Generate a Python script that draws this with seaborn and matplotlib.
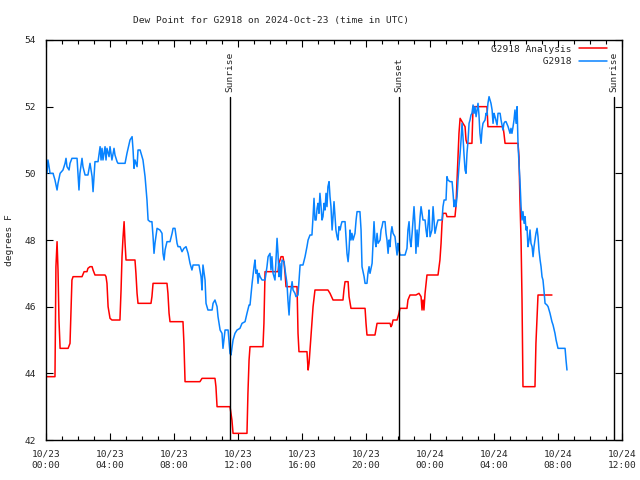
import numpy as np
import pandas as pd
import matplotlib
matplotlib.use("Agg")
import matplotlib.pyplot as plt
import seaborn as sns

# hours since 2024-10-23 00:00 UTC and dew point (F)
station_hours = [
    0.06, 0.12, 0.19, 0.25, 0.44, 0.56, 0.69, 0.75, 0.88, 1.06, 1.19, 1.25, 1.31, 1.44, 1.5, 1.62,
    1.94, 2.0, 2.06, 2.12, 2.25, 2.31, 2.44, 2.62, 2.75, 2.88, 2.94, 3.0, 3.06, 3.25, 3.38, 3.44,
    3.5, 3.56, 3.69, 3.75, 3.81, 3.94, 4.0, 4.12, 4.25, 4.31, 4.44, 4.5, 4.94, 5.06, 5.25, 5.38,
    5.44, 5.5, 5.56, 5.69, 5.75, 5.88, 6.0, 6.06, 6.19, 6.31, 6.38, 6.5, 6.62, 6.69, 6.75, 6.81,
    6.94, 7.12, 7.25, 7.31, 7.38, 7.44, 7.56, 7.75, 7.88, 7.94, 8.06, 8.19, 8.25, 8.38, 8.5, 8.62,
    8.75, 8.88, 9.0, 9.12, 9.19, 9.31, 9.44, 9.56, 9.69, 9.75, 9.81, 9.94, 10.0, 10.12, 10.38, 10.44,
    10.56, 10.69, 10.75, 10.88, 11.0, 11.06, 11.12, 11.19, 11.38, 11.5, 11.56, 11.69, 11.81, 11.94,
    12.12, 12.25, 12.44, 12.56, 12.69, 12.75, 12.88, 13.0, 13.06, 13.12, 13.19, 13.25, 13.31, 13.38,
    13.5, 13.69, 13.81, 13.88, 14.0, 14.06, 14.12, 14.19, 14.31, 14.38, 14.44, 14.5, 14.56, 14.62,
    14.69, 14.75, 14.88, 14.94, 15.06, 15.12, 15.19, 15.25, 15.31, 15.38, 15.44, 15.56, 15.62, 15.75,
    15.88, 16.06, 16.19, 16.31, 16.38, 16.5, 16.62, 16.69, 16.75, 16.81, 16.88, 16.94, 17.0, 17.06,
    17.12, 17.19, 17.25, 17.31, 17.38, 17.44, 17.5, 17.56, 17.62, 17.69, 17.75, 17.81, 17.88, 17.94,
    18.0, 18.06, 18.12, 18.19, 18.25, 18.31, 18.38, 18.44, 18.5, 18.69, 18.81, 18.88, 18.94, 19.0,
    19.06, 19.12, 19.19, 19.31, 19.38, 19.44, 19.62, 19.69, 19.75, 19.88, 19.94, 20.06, 20.12, 20.19,
    20.25, 20.38, 20.44, 20.5, 20.56, 20.62, 20.69, 20.75, 20.88, 20.94, 21.0, 21.06, 21.19, 21.25,
    21.31, 21.38, 21.44, 21.5, 21.56, 21.62, 21.69, 21.81, 21.88, 21.94, 22.0, 22.06, 22.12, 22.31,
    22.44, 22.56, 22.62, 22.69, 22.75, 22.81, 22.88, 22.94, 23.0, 23.06, 23.12, 23.19, 23.25, 23.38,
    23.44, 23.5, 23.56, 23.69, 23.75, 23.81, 23.88, 23.94, 24.0, 24.12, 24.19, 24.25, 24.31, 24.44,
    24.5, 24.75, 24.81, 24.88, 25.0, 25.06, 25.12, 25.25, 25.38, 25.44, 25.5, 25.56, 25.62, 25.69,
    25.75, 25.81, 25.88, 25.94, 26.0, 26.06, 26.12, 26.19, 26.25, 26.31, 26.38, 26.44, 26.5, 26.56,
    26.62, 26.69, 26.75, 26.81, 26.88, 26.94, 27.0, 27.06, 27.12, 27.19, 27.25, 27.31, 27.44, 27.5,
    27.56, 27.62, 27.69, 27.75, 27.81, 27.88, 27.94, 28.0, 28.06, 28.19, 28.25, 28.31, 28.38, 28.44,
    28.5, 28.56, 28.62, 28.69, 28.75, 28.88, 28.94, 29.0, 29.06, 29.12, 29.19, 29.25, 29.31, 29.38,
    29.44, 29.5, 29.56, 29.62, 29.69, 29.75, 29.81, 29.88, 29.94, 30.0, 30.06, 30.12, 30.19, 30.25,
    30.31, 30.38, 30.44, 30.5, 30.56, 30.62, 30.69, 30.75, 30.81, 30.88, 30.94, 31.0, 31.06, 31.12,
    31.19, 31.31, 31.38, 31.5, 31.62, 31.69, 31.81, 31.88, 32.0, 32.31, 32.44, 32.5, 32.56,
]
station_dewpt = [
    50.0, 50.4, 50.2, 50.0, 50.0, 49.8, 49.5, 49.7, 50.0, 50.1, 50.3, 50.45, 50.2, 50.1, 50.3, 50.45,
    50.45, 50.0, 49.5, 50.0, 50.45, 50.2, 49.95, 49.95, 50.3, 49.9, 49.45, 49.9, 50.35, 50.35, 50.8, 50.4,
    50.75, 50.4, 50.8, 50.4, 50.75, 50.5, 50.8, 50.4, 50.75, 50.55, 50.35, 50.3, 50.3, 50.6, 51.0, 51.1,
    50.7, 50.15, 50.4, 50.2, 50.7, 50.7, 50.5, 50.4, 49.9, 49.2, 48.6, 48.55, 48.55, 48.1, 47.6, 47.9,
    48.35, 48.3, 48.2, 47.6, 47.4, 47.7, 47.95, 47.95, 48.2, 48.35, 48.35, 47.9, 47.8, 47.8, 47.65, 47.75,
    47.8, 47.6, 47.3, 47.1, 47.25, 47.25, 47.25, 47.25, 46.9, 46.5, 47.25, 46.8, 46.1, 45.9, 45.9, 46.1,
    46.2, 46.0, 45.7, 45.3, 45.2, 44.75, 45.0, 45.3, 45.3, 44.6, 44.55, 45.0, 45.2, 45.3,
    45.35, 45.5, 45.55, 45.8, 46.05, 46.05, 46.7, 47.2, 47.4, 47.0, 47.1, 46.7, 47.0, 46.9,
    46.8, 46.8, 47.2, 47.5, 47.6, 47.1, 47.5, 47.0, 46.8, 47.5, 48.05, 47.6, 46.9, 47.3,
    46.8, 47.4, 47.35, 47.1, 46.7, 46.2, 45.75, 46.3, 46.5, 46.75, 46.5, 46.4, 46.3, 46.35,
    47.25, 47.25, 47.5, 47.8, 48.0, 48.15, 48.15, 48.7, 49.25, 48.6, 48.6, 48.95, 49.1, 48.8,
    49.4, 49.0, 48.6, 48.7, 49.1, 48.9, 49.4, 49.0, 49.6, 49.75, 49.3, 49.0, 48.3, 48.7,
    49.15, 48.7, 48.3, 48.1, 48.0, 48.4, 48.3, 48.45, 48.55, 48.55, 47.6, 47.35, 47.7, 48.3,
    48.0, 48.2, 48.0, 48.2, 48.6, 48.85, 48.85, 48.3, 47.2, 46.9, 46.7, 46.7, 47.0, 47.2,
    47.0, 47.3, 47.9, 48.55, 48.0, 47.8, 48.2, 47.9, 48.0, 48.3, 48.4, 48.55, 48.55, 48.2,
    48.0, 47.6, 48.0, 47.8, 48.2, 48.4, 48.2, 48.1, 47.8, 47.55, 47.9, 47.7, 47.55, 47.55,
    47.55, 47.75, 48.3, 48.55, 48.0, 47.8, 48.2, 48.6, 49.0, 48.5, 47.6, 48.3, 47.8, 48.7,
    49.0, 48.8, 48.6, 48.6, 48.3, 48.1, 48.5, 48.9, 48.1, 48.3, 49.0, 48.6, 48.2, 48.5,
    48.6, 48.6, 49.0, 49.2, 49.2, 49.9, 49.8, 49.75, 49.75, 49.4, 49.0, 49.2, 49.0, 49.3,
    49.8, 50.2, 50.6, 51.0, 51.5, 51.1, 50.6, 50.1, 50.0, 50.6, 51.0, 51.5, 51.6, 51.75,
    51.8, 52.05, 51.8, 52.0, 51.7, 51.9, 52.1, 51.75, 51.2, 50.9, 51.3, 51.5, 51.6, 51.8,
    51.75, 52.1, 52.3, 52.2, 52.1, 51.9, 51.5, 51.8, 51.7, 51.45, 51.8, 51.8, 51.8, 51.6,
    51.45, 51.3, 51.5, 51.55, 51.55, 51.4, 51.3, 51.2, 51.35, 51.2, 51.4, 51.6, 51.9, 51.5,
    52.0, 50.9, 50.3, 49.8, 49.0, 48.6, 48.85, 48.5, 48.7, 48.3, 48.4, 47.8, 48.0, 48.3,
    47.9, 47.8, 47.5, 47.8, 48.0, 48.2, 48.35, 48.1, 47.7, 47.4, 47.2, 46.9, 46.8, 46.5,
    46.1, 46.05, 46.0, 45.8, 45.55, 45.45, 45.2, 45.0, 44.75, 44.75, 44.75, 44.4, 44.1,
]

analysis_hours = [
    0.06, 0.56, 0.62, 0.69, 0.75, 0.81, 0.88, 1.38, 1.5, 1.56, 1.62, 1.69, 2.25, 2.38, 2.56, 2.62,
    2.75, 2.88, 2.94, 3.06, 3.69, 3.75, 3.81, 3.88, 4.0, 4.12, 4.62, 4.69, 4.75, 4.81, 4.88, 4.94,
    5.0, 5.56, 5.62, 5.69, 5.75, 6.56, 6.62, 6.69, 7.56, 7.62, 7.69, 7.75, 8.56, 8.62, 8.69, 9.62,
    9.75, 10.56, 10.62, 10.69, 11.5, 11.62, 11.69, 12.56, 12.62, 12.69, 12.75, 13.56, 13.62, 13.69,
    14.5, 14.56, 14.69, 14.81, 14.88, 14.94, 15.0, 15.69, 15.75, 15.81, 16.31, 16.38, 16.44, 16.56,
    16.69, 16.81, 17.62, 17.75, 17.94, 18.56, 18.62, 18.69, 18.88, 18.94, 19.06, 19.94, 20.0, 20.06,
    20.56, 20.69, 21.5, 21.56, 21.62, 21.69, 21.94, 22.06, 22.12, 22.56, 22.62, 22.75, 23.12, 23.31,
    23.44, 23.5, 23.56, 23.62, 23.69, 23.81, 24.5, 24.62, 24.69, 24.75, 24.81, 25.0, 25.06, 25.56,
    25.62, 25.69, 25.75, 25.81, 25.88, 25.94, 26.06, 26.19, 26.25, 26.31, 26.62, 26.69, 27.56, 27.62,
    28.56, 28.62, 28.69, 29.5, 29.56, 29.62, 29.69, 29.75, 29.81, 30.56, 30.62, 30.69, 30.75, 31.62,
]
analysis_dewpt = [
    43.9, 43.9, 47.2, 47.95, 47.1, 45.6, 44.75, 44.75, 44.9, 45.9, 46.8, 46.9, 46.9, 47.05, 47.05, 47.15,
    47.2, 47.2, 47.1, 46.95, 46.95, 46.9, 46.7, 46.0, 45.65, 45.6, 45.6, 46.5, 47.5, 48.05, 48.55, 47.9,
    47.4, 47.4, 47.0, 46.4, 46.1, 46.1, 46.3, 46.7, 46.7, 46.4, 45.8, 45.55, 45.55, 44.9, 43.75, 43.75,
    43.85, 43.85, 43.6, 43.0, 43.0, 42.6, 42.2, 42.2, 43.4, 44.4, 44.8, 44.8, 45.5, 47.05,
    47.05, 47.3, 47.5, 47.5, 47.3, 47.0, 46.6, 46.6, 45.2, 44.65, 44.65, 44.1, 44.3, 45.1,
    46.0, 46.5, 46.5, 46.4, 46.2, 46.2, 46.5, 46.75, 46.75, 46.3, 45.95, 45.95, 45.5, 45.15,
    45.15, 45.5, 45.5, 45.4, 45.45, 45.6, 45.6, 45.8, 45.95, 45.95, 46.2, 46.35, 46.35, 46.4,
    46.3, 45.9, 46.2, 45.9, 46.4, 46.95, 46.95, 47.4, 47.9, 48.5, 48.8, 48.8, 48.7, 48.7,
    49.0, 49.8, 50.5, 51.2, 51.65, 51.6, 51.5, 51.4, 51.0, 50.9, 50.9, 52.0, 52.0, 51.4,
    51.4, 51.2, 50.9, 50.9, 50.5, 49.2, 48.0, 46.2, 43.6, 43.6, 44.9, 45.65, 46.35, 46.35,
]

sun_hours = [11.5, 22.07, 35.5]
sun_labels = ["Sunrise", "Sunset", "Sunrise"]

tick_hours = [0, 4, 8, 12, 16, 20, 24, 28, 32, 36]
tick_labels = ["10/23\n00:00", "10/23\n04:00", "10/23\n08:00", "10/23\n12:00", "10/23\n16:00",
               "10/23\n20:00", "10/24\n00:00", "10/24\n04:00", "10/24\n08:00", "10/24\n12:00"]

sns.set_style("ticks")
plt.rcParams["font.family"] = ["DejaVu Sans Mono"]
plt.rcParams["font.size"] = 6.8

fig = plt.figure(figsize=(6.4, 4.8), dpi=100)
ax = fig.add_axes([0.0719, 0.0833, 0.9, 0.8334])

ana = pd.DataFrame({"hour": analysis_hours, "dewpt": analysis_dewpt})
stn = pd.DataFrame({"hour": station_hours, "dewpt": station_dewpt})

sns.lineplot(data=ana, x="hour", y="dewpt", ax=ax, color="#ff0000", linewidth=1.1,
             estimator=None, sort=False, label="G2918 Analysis")
sns.lineplot(data=stn, x="hour", y="dewpt", ax=ax, color="#0883ff", linewidth=1.1,
             estimator=None, sort=False, label="         G2918")

for h, lab in zip(sun_hours, sun_labels):
    ax.plot([h, h], [42, 52.28], color="black", linewidth=1)
    ax.text(h, 52.45, lab, rotation=90, ha="center", va="bottom")

ax.set_xlim(0, 36)
ax.set_ylim(42, 54)
ax.set_xticks(tick_hours)
ax.set_xticklabels(tick_labels, linespacing=1.3)
ax.set_xticks(np.arange(0, 37, 1), minor=True)
ax.set_yticks(np.arange(42, 55, 2))
ax.tick_params(which="both", direction="in", top=True, right=True, color="black", width=0.8)
ax.tick_params(which="major", length=5, pad=7)
ax.tick_params(which="minor", length=3)
for s in ax.spines.values():
    s.set_color("black")
    s.set_linewidth(1)

ax.set_xlabel("")
ax.set_ylabel("degrees F", labelpad=8)
fig.text(271 / 640, 1 - 20 / 480, "Dew Point for G2918 on 2024-Oct-23 (time in UTC)",
         ha="center", va="center")

leg = ax.legend(loc="upper right", bbox_to_anchor=(1 - 11 / 576, 1 - 1 / 400), borderaxespad=0,
                frameon=False, markerfirst=False, handlelength=3.0,
                labelspacing=0.35, handletextpad=0.8)

fig.savefig("out.png", dpi=100)
